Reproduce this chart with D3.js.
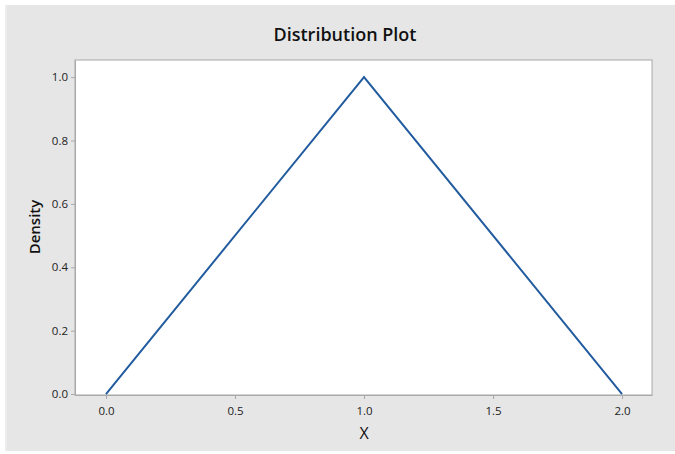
<!DOCTYPE html>
<html><head><meta charset="utf-8">
<script src="https://cdn.jsdelivr.net/npm/d3@7"></script>
<style>body{margin:0;background:#fff}svg{display:block}</style>
</head><body>
<script>
const xValues = [0, 1, 2];
const densityValues = [0, 1, 0];
const xTicks = [0, 0.5, 1, 1.5, 2];
const yTicks = [0, 0.2, 0.4, 0.6, 0.8, 1.0];
const title = "Distribution Plot";
const xLabel = "X";
const yLabel = "Density";

const W = 675, H = 454;
const svg = d3.select("body").append("svg").attr("width", W).attr("height", H);
svg.append("rect").attr("x", 5).attr("y", 5).attr("width", W - 5).attr("height", 446).attr("fill", "#e6e6e6");
svg.append("rect").attr("x", 5).attr("y", 5).attr("width", 2).attr("height", 446).attr("fill", "#ededed");

const L = 75, R = 652, T = 60, B = 395;
const x = d3.scaleLinear().domain([-0.12, 2.116]).range([L, R]);
const y = d3.scaleLinear().domain([-0.003, 1.054]).range([B, T]);

svg.append("rect").attr("x", L).attr("y", T).attr("width", R - L).attr("height", B - T)
  .attr("fill", "#fff").attr("stroke", "#a8a8a8").attr("stroke-width", 1);

const font = "'Open Sans', 'Noto Sans', sans-serif";
const xAxis = svg.append("g").attr("transform", `translate(0,${B})`)
  .call(d3.axisBottom(x).tickValues(xTicks).tickFormat(d3.format(".1f")).tickSize(4).tickSizeOuter(0));
const yAxis = svg.append("g").attr("transform", `translate(${L},0)`)
  .call(d3.axisLeft(y).tickValues(yTicks).tickFormat(d3.format(".1f")).tickSize(4).tickSizeOuter(0));
[xAxis, yAxis].forEach(a => {
  a.select(".domain").attr("stroke", "#a8a8a8");
  a.selectAll(".tick line").attr("stroke", "#a8a8a8");
  a.selectAll(".tick text").attr("fill", "#222").style("font-family", font).style("font-size", "11.5px");
});
xAxis.selectAll(".tick text").attr("dy", "1.1em");
yAxis.selectAll(".tick text").attr("x", -7);

const line = d3.line().x((d, i) => x(xValues[i])).y(d => y(d));
svg.append("path").datum(densityValues).attr("d", line)
  .attr("fill", "none").attr("stroke", "#225c9f").attr("stroke-width", 2).attr("stroke-linejoin", "miter");

svg.append("text").attr("x", 345).attr("y", 41).attr("text-anchor", "middle")
  .style("font-family", font).style("font-size", "18px").style("font-weight", 600).attr("fill", "#111").text(title);
svg.append("text").attr("x", 364).attr("y", 439).attr("text-anchor", "middle")
  .style("font-family", font).style("font-size", "16px").attr("fill", "#111").text(xLabel);
svg.append("text").attr("transform", "translate(40,227) rotate(-90)").attr("text-anchor", "middle")
  .style("font-family", font).style("font-size", "15px").style("font-weight", 600).attr("fill", "#111").text(yLabel);
</script>
</body></html>
